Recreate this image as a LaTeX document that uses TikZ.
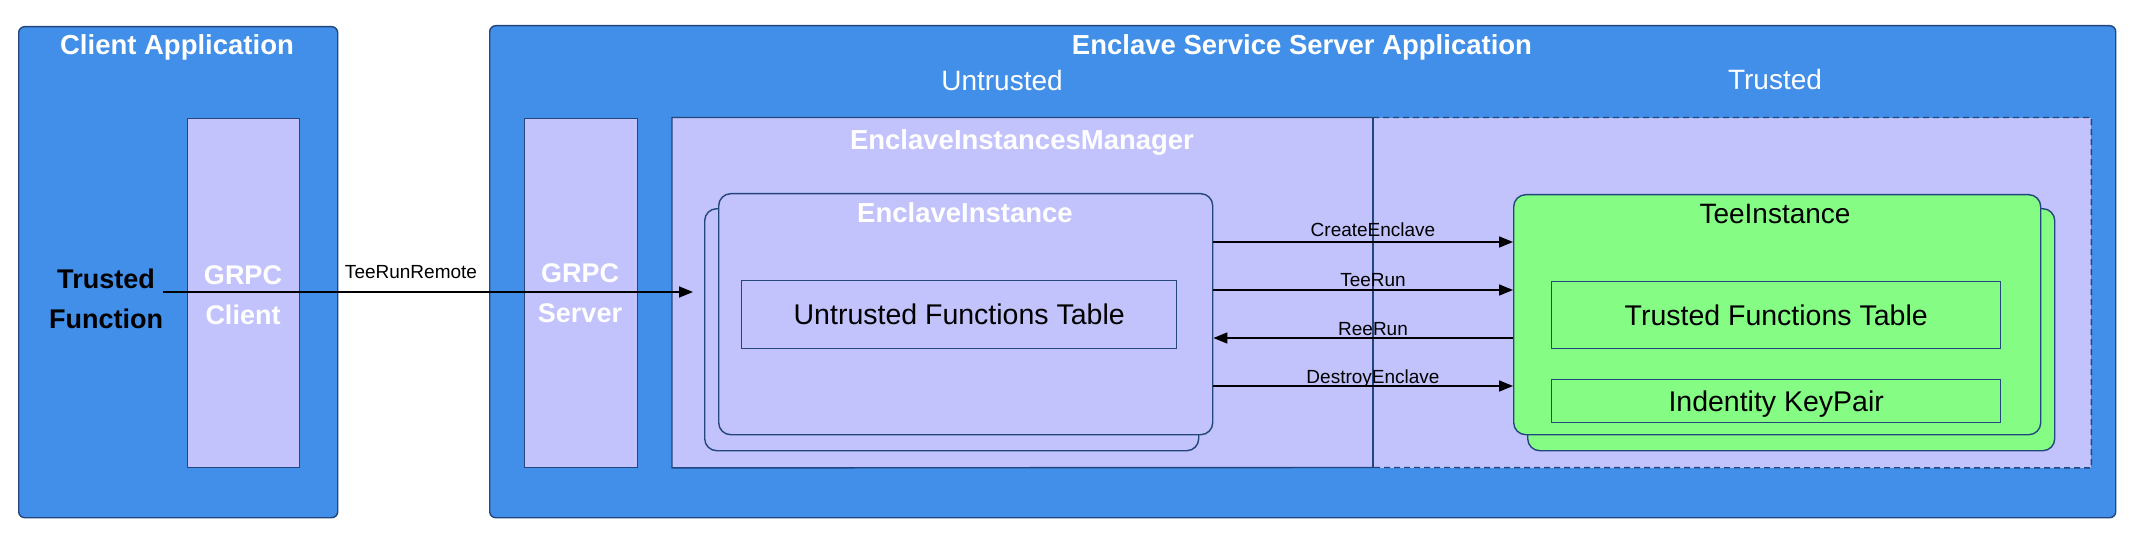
\documentclass[tikz,border=0pt]{standalone}
\usepackage{fontspec}
\setmainfont{Liberation Sans}
\usetikzlibrary{arrows.meta}
\definecolor{appblue}{RGB}{65,143,233}
\definecolor{lav}{RGB}{194,194,252}
\definecolor{teegreen}{RGB}{133,253,133}
\definecolor{bd}{RGB}{35,70,125}
\begin{document}
\begin{tikzpicture}[x=1pt,y=-1pt,
  box/.style={draw=bd,line width=1.4pt,inner sep=0pt,anchor=north west},
  appbox/.style={box,fill=appblue,rounded corners=6pt},
  lavbox/.style={box,fill=lav},
  inst/.style={box,fill=lav,rounded corners=12pt},
  teebox/.style={box,fill=teegreen,rounded corners=12pt},
  tbl/.style={box,font=\fontsize{28.5}{34}\selectfont,text height=20.5pt,text depth=0pt},
  wtitle/.style={font=\fontsize{27.5}{33}\selectfont\bfseries,text=white,inner sep=0pt,text height=19.8pt,text depth=0pt},
  zone/.style={font=\fontsize{28}{33}\selectfont,text=white,inner sep=0pt,text height=20.2pt,text depth=0pt},
  grpc/.style={font=\fontsize{27}{40}\selectfont\bfseries,text=white,inner sep=0pt,align=center},
  lbl/.style={font=\fontsize{19}{23}\selectfont,inner sep=0pt,text height=13.7pt,text depth=0pt},
  arr/.style={draw=black,line width=1.6pt,-{Triangle[length=14pt,width=11pt]}}
]
\useasboundingbox (0,0) rectangle (2132,540);

% application boxes
\node[appbox,minimum width=319pt,minimum height=491pt] (client) at (18,26) {};
\node[appbox,minimum width=1626pt,minimum height=492pt] (server) at (489,25) {};
\node[wtitle] (clienttitle) at (177,45) {Client Application};
\node[wtitle] (servertitle) at (1302,45) {Enclave Service Server Application};
\node[zone] (untrusted) at (1002,80) {Untrusted};
\node[zone] (trusted) at (1775,79) {Trusted};

% GRPC boxes
\node[lavbox,minimum width=112pt,minimum height=349pt] (gclient) at (187,118) {};
\node[lavbox,minimum width=113pt,minimum height=349pt] (gserver) at (524,118) {};
\node[grpc] (gclienttxt) at (243,295) {GRPC\\Client};
\node[grpc] (gservertxt) at (580,293) {GRPC\\Server};
\node[grpc,text=black] (tf) at (106,299) {Trusted\\Function};

% enclave instances manager
\node[inner sep=0pt,anchor=north west,fill=lav,minimum width=1419pt,minimum height=350pt] (eim) at (672,117.5) {};
\coordinate (divtop) at (1373,117.5);
\coordinate (divbot) at (1373,467.5);
\draw[bd,line width=1.4pt] (divtop) -- (eim.north west) -- (eim.south west) -- (divbot);
\draw[bd,line width=1.4pt,dash pattern=on 6pt off 4pt] (divtop) -- (eim.north east) -- (eim.south east) -- (divbot);
\draw[bd,line width=1.2pt] (divtop) -- (divbot);
\node[wtitle] (eimtitle) at (1022,140) {EnclaveInstancesManager};

% enclave instance (stacked)
\node[inst,minimum width=494pt,minimum height=242pt] (eiback) at (704,208) {};
\node[inst,minimum width=494pt,minimum height=241pt] (eifront) at (718,193) {};
\node[wtitle] (eititle) at (965,213) {EnclaveInstance};
\node[tbl,minimum width=435pt,minimum height=68pt] (uft) at (741,280) {Untrusted Functions Table};

% tee instance (stacked)
\node[teebox,minimum width=527pt,minimum height=242pt] (tiback) at (1527,208) {};
\node[teebox,minimum width=527pt,minimum height=240pt] (tifront) at (1513,194) {};
\node[font=\fontsize{28}{33}\selectfont,inner sep=0pt,text height=20.2pt,text depth=0pt] (tititle) at (1775,213) {TeeInstance};
\node[tbl,minimum width=449pt,minimum height=67pt] (tft) at (1551,281) {Trusted Functions Table};
\node[tbl,minimum width=449pt,minimum height=43pt] (ikp) at (1551,379) {Indentity KeyPair};

% connectors
\draw[arr,shorten >=11pt] (tf.east |- 0,292) -- (eiback.west |- 0,292);
\node[lbl] (lrr) at (411,272) {TeeRunRemote};

\draw[arr] (eifront.east |- 0,242) -- (tifront.west |- 0,242);
\draw[arr] (eifront.east |- 0,290) -- (tifront.west |- 0,290);
\draw[arr] (tifront.west |- 0,338) -- (eifront.east |- 0,338);
\draw[arr] (eifront.east |- 0,386) -- (tifront.west |- 0,386);
\node[lbl] (lce) at (1373,230) {CreateEnclave};
\node[lbl] (ltr) at (1373,280) {TeeRun};
\node[lbl] (lrr2) at (1373,329) {ReeRun};
\node[lbl] (lde) at (1373,377) {DestroyEnclave};
\end{tikzpicture}
\end{document}
